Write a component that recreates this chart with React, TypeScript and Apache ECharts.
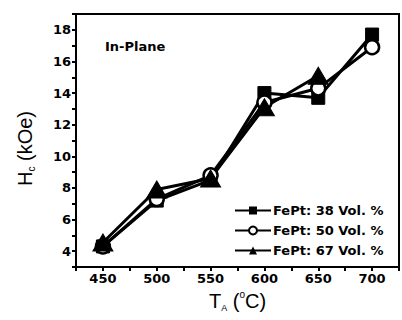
import React, { useEffect, useRef } from "react";
import * as echarts from "echarts";

const temperatures = [450, 500, 550, 600, 650, 700];
const fept38 = [4.3, 7.2, 8.5, 14.0, 13.7, 17.7];
const fept50 = [4.3, 7.3, 8.8, 13.4, 14.3, 16.9];
const fept67: (number | null)[] = [4.55, 7.9, 8.6, 13.1, 15.1, null];
const seriesNames = ["FePt: 38 Vol. %", "FePt: 50 Vol. %", "FePt: 67 Vol. %"];
const yTickLabels = [4, 6, 8, 10, 12, 14, 16, 18];
const xTickLabels = [450, 500, 550, 600, 650, 700];

const FONT = "DejaVu Sans";

function pairs(vals: (number | null)[]) {
  return temperatures.map((t, i) => [t, vals[i]]);
}

export default function App() {
  const ref = useRef<HTMLDivElement>(null);
  useEffect(() => {
    if (!ref.current) return;
    const chart = echarts.init(ref.current, undefined, { renderer: "svg" });
    const lineStyle = { color: "#000", width: 3 };
    chart.setOption({
      animation: false,
      backgroundColor: "#fff",
      grid: {
        left: 76,
        right: -9,
        top: 14,
        bottom: 53,
        show: true,
        borderColor: "#000",
        borderWidth: 2,
      },
      xAxis: {
        type: "value",
        min: 425,
        max: 725,
        interval: 25,
        splitLine: { show: false },
        axisLine: { show: true, lineStyle: { color: "#000", width: 2 } },
        name: "{t|T}{sub|A}{t| (}{sup|o}{t|C)}",
        nameLocation: "middle",
        nameGap: 20,
        nameTextStyle: {
          rich: {
            t: { fontFamily: "Liberation Sans", fontSize: 20, color: "#000" },
            sub: { fontFamily: "Liberation Sans", fontSize: 9, color: "#000", verticalAlign: "bottom", padding: [14, 0, 0, 0] },
            sup: { fontFamily: "Liberation Sans", fontSize: 10, color: "#000", verticalAlign: "top", padding: [0, 0, 10, 0] },
          },
        },
        axisTick: { show: true, inside: false, length: 4, lineStyle: { color: "#000", width: 2 } },
        axisLabel: {
          color: "#000",
          fontFamily: FONT,
          fontWeight: "bold",
          fontSize: 13,
          margin: 5,
          formatter: (v: number) => (xTickLabels.includes(v) ? String(v) : ""),
        },
      },
      yAxis: {
        type: "value",
        min: 3,
        max: 19,
        interval: 1,
        splitLine: { show: false },
        axisLine: { show: true, lineStyle: { color: "#000", width: 2 } },
        name: "{t|H}{sub|c}{t| (kOe)}",
        nameLocation: "middle",
        nameGap: 40,
        nameRotate: 90,
        nameTextStyle: {
          padding: [0, 16, 0, 0],
          rich: {
            t: { fontFamily: "Liberation Sans", fontSize: 20, color: "#000" },
            sub: { fontFamily: "Liberation Sans", fontSize: 10, color: "#000", verticalAlign: "bottom", padding: [12, 0, 0, 0] },
          },
        },
        axisTick: { show: true, inside: false, length: 4, lineStyle: { color: "#000", width: 2 } },
        axisLabel: {
          color: "#000",
          fontFamily: FONT,
          fontWeight: "bold",
          fontSize: 13,
          margin: 5,
          formatter: (v: number) => (yTickLabels.includes(v) ? String(v) : ""),
        },
      },
      legend: {
        data: seriesNames,
        orient: "vertical",
        left: 229,
        top: 199,
        itemWidth: 36,
        itemHeight: 10,
        itemGap: 7,
        textStyle: { color: "#000", fontFamily: FONT, fontWeight: "bold", fontSize: 13, padding: [0, 0, 0, -3] },
      },
      graphic: [
        {
          type: "text",
          left: 105,
          top: 40,
          style: { text: "In-Plane", fontFamily: FONT, fontWeight: "bold", fontSize: 13, fill: "#000" },
        },
      ],
      series: [
        {
          name: seriesNames[0],
          type: "line",
          data: pairs(fept38),
          symbol: "rect",
          symbolSize: 13,
          lineStyle,
          itemStyle: { color: "#000", borderColor: "#000" },
        },
        {
          name: seriesNames[1],
          type: "line",
          data: pairs(fept50),
          symbol: "circle",
          symbolSize: 14,
          lineStyle,
          itemStyle: { color: "#fff", borderColor: "#000", borderWidth: 2.5 },
        },
        {
          name: seriesNames[2],
          type: "line",
          data: pairs(fept67),
          symbol: "triangle",
          symbolSize: [20, 17],
          lineStyle,
          itemStyle: { color: "#000", borderColor: "#000" },
        },
      ],
    });
    return () => chart.dispose();
  }, []);
  return (
    <div
      ref={ref}
      style={{ position: "absolute", left: 0, top: 0, width: 402, height: 320 }}
    />
  );
}
